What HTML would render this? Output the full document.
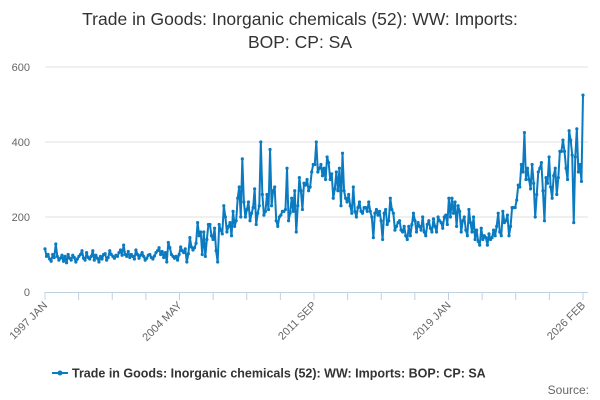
<!DOCTYPE html>
<html><head><meta charset="utf-8"><style>
body{margin:0;background:#fff;font-family:"Liberation Sans",sans-serif;}
svg{display:block}
</style></head><body>
<svg id="chart" width="600" height="400">
<text x="300" y="25" text-anchor="middle" font-size="17.5" fill="#333">Trade in Goods: Inorganic chemicals (52): WW: Imports:</text>
<text x="300" y="48" text-anchor="middle" font-size="17.5" fill="#333">BOP: CP: SA</text>
<g id="grid"></g><g id="xaxis"></g><g id="series"></g>
<g>
<line x1="52" y1="373" x2="68" y2="373" stroke="#0b7bc1" stroke-width="2"/>
<circle cx="60" cy="373" r="2.5" fill="#0b7bc1"/>
<text x="72" y="377.5" font-size="12.5" font-weight="bold" fill="#333">Trade in Goods: Inorganic chemicals (52): WW: Imports: BOP: CP: SA</text>
</g>
<text x="589" y="394" text-anchor="end" font-size="12" fill="#666">Source:</text>
</svg>
<script>
const yTicks=[0,200,400,600];
const xTickLabels=["1997 JAN","2004 MAY","2011 SEP","2019 JAN","2026 FEB"];
const values=[
115,95,100,88,82,100,92,128,95,85,90,98,
82,95,78,100,90,85,98,92,80,88,95,100,
110,90,85,105,92,88,95,110,85,98,90,80,
95,88,100,102,85,92,110,100,95,90,98,95,
105,112,98,125,100,95,108,92,100,95,88,112,
100,90,98,105,95,85,90,98,100,92,88,96,
105,110,118,100,108,92,105,80,132,118,100,95,
90,95,85,100,120,110,105,115,80,102,145,120,
112,118,130,185,150,160,100,160,95,140,180,180,
150,140,170,110,80,180,165,155,230,200,160,175,
185,150,215,175,190,250,280,200,355,240,200,220,
240,190,210,225,275,180,210,230,400,260,205,215,
260,220,380,230,270,280,190,175,200,205,215,215,
220,330,190,210,250,215,270,160,230,305,270,220,
290,285,300,270,280,320,340,340,400,320,330,340,
310,330,300,360,345,300,315,250,275,320,270,330,
230,370,270,250,240,260,230,210,280,215,200,225,
240,215,210,225,225,215,240,215,200,145,210,220,
205,215,190,140,210,220,180,190,250,220,210,165,
175,185,190,165,160,175,150,140,175,150,180,210,
190,160,185,175,165,200,160,150,180,190,170,160,
195,175,160,200,190,185,170,200,205,180,250,200,
250,210,240,175,230,215,160,190,200,165,150,220,
185,160,200,140,165,135,125,170,140,150,145,125,
155,140,145,165,150,175,210,160,150,215,185,190,
205,150,175,225,225,225,245,285,280,340,320,425,
300,330,300,275,340,290,200,260,320,330,345,270,
190,305,290,360,280,250,310,330,260,305,375,375,
405,375,330,300,430,405,365,185,360,435,320,340,
295,525];
const NS="http://www.w3.org/2000/svg";
const x0=45,x1=583,yB=292,yT=67,yMax=600;
const xs=i=>x0+(x1-x0)*i/(values.length-1);
const ys=v=>yB-(yB-yT)*v/yMax;
function mk(t,a,p){const e=document.createElementNS(NS,t);for(const k in a)e.setAttribute(k,a[k]);p.appendChild(e);return e;}
const grid=document.getElementById('grid');
yTicks.forEach(v=>{
  if(v>0){const l=mk('line',{x1:x0,x2:x1+5,y1:ys(v),y2:ys(v),stroke:'#e0e0e0'},grid);
  
  }
  const t=mk('text',{x:x0-15,y:ys(v)+4,'text-anchor':'end','font-size':11,fill:'#666'},grid);
  
  
  t.textContent=v;
});
const xa=document.getElementById('xaxis');
const al=mk('line',{x1:x0,x2:x1+5,y1:yB+0.5,y2:yB+0.5,stroke:'#c0d0e0'},xa);


for(let k=0;k<=16;k++){
  const x=x0+(x1-x0)*k/16;
  mk('line',{x1:x,x2:x,y1:yB,y2:yB+8,stroke:'#c0d0e0'},xa);
  if(k%4===0){
    const t=mk('text',{x:x+3,y:yB+14,'text-anchor':'end','font-size':11,fill:'#666',transform:`rotate(-45 ${x+3} ${yB+14})`},xa);
    
    
    t.textContent=xTickLabels[k/4];
  }
}
const sg=document.getElementById('series');
const pl=mk('polyline',{points:values.map((v,i)=>xs(i)+','+ys(v)).join(' '),fill:'none',stroke:'#0b7bc1','stroke-width':2,'stroke-linejoin':'round'},sg);


values.forEach((v,i)=>{
  const c=mk('circle',{cx:xs(i),cy:ys(v),r:1.6,fill:'#0b7bc1'},sg);
  
  
});
</script>
</body></html>
